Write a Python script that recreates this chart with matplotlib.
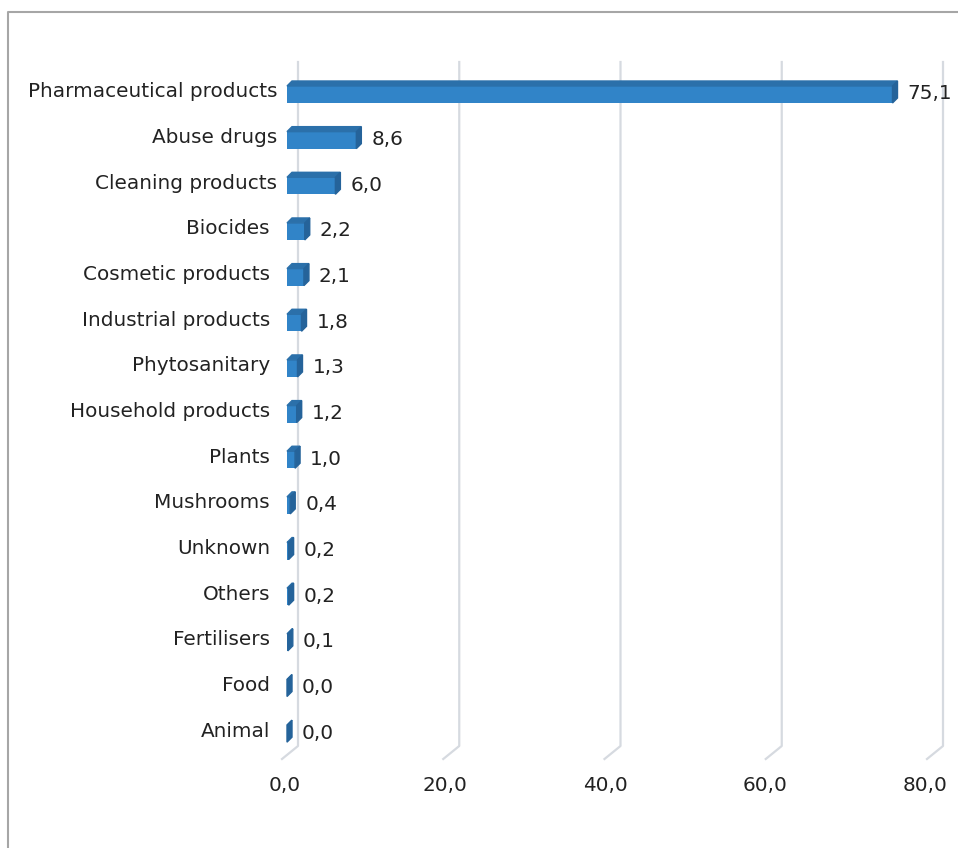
import matplotlib
matplotlib.use("Agg")
import matplotlib.pyplot as plt
from matplotlib.patches import Polygon
from matplotlib.lines import Line2D

categories = ["Pharmaceutical products", "Abuse drugs", "Cleaning products", "Biocides",
              "Cosmetic products", "Industrial products", "Phytosanitary", "Household products",
              "Plants", "Mushrooms", "Unknown", "Others", "Fertilisers", "Food", "Animal"]
values = [75.1, 8.6, 6.0, 2.2, 2.1, 1.8, 1.3, 1.2, 1.0, 0.4, 0.2, 0.2, 0.1, 0.0, 0.0]
xticks = [0, 20, 40, 60, 80]

front_col = "#3184C8"
top_col = "#2B70AA"
side_col = "#25639A"
grid_col = "#D6DAE0"
text_col = "#222222"
fs = 14.4

plt.rcParams["font.family"] = ["DejaVu Sans"]

W, H = 958, 848
fig = plt.figure(figsize=(W / 100, H / 100), dpi=100)
# axes: x 0..80 over pixels 287..932, categories centred every ~45.6 px
left, right, top, bottom = 287, 932, 62, 754
ax = fig.add_axes([left / W, 1 - bottom / H, (right - left) / W, (bottom - top) / H])
ax.set_xlim(0, 80)
ylo, yhi = 14.5, -0.657
ax.set_ylim(ylo, yhi)
ax.axis("off")

# pixel -> data unit sizes
px = 80 / (right - left)
py = (ylo - yhi) / (bottom - top)

# back gridlines with floor diagonal
y_floor_back = (746 - 92) * py
y_floor_front = (759 - 92) * py
for t in xticks:
    xb = t + 11 * px
    xf = t - 5 * px
    ax.add_line(Line2D([xb, xb, xf], [yhi, y_floor_back, y_floor_front],
                       color=grid_col, lw=1.6, clip_on=False, zorder=0))
    ax.text(t - (2 + 5 * t / 80) * px, (786 - 92) * py, f"{t:.1f}".replace(".", ","),
            ha="center", va="center", fontsize=fs, color=text_col, clip_on=False)

# pseudo 3d bars
bh = 17 * py
ddx, ddy = 5 * px, 5 * py
for i, (cat, v) in enumerate(zip(categories, values)):
    yc = i + 2.5 * py
    y0, y1 = yc - bh / 2, yc + bh / 2  # y0 is the upper edge (inverted axis)
    ax.barh(yc, v, height=bh, color=front_col, zorder=2)
    ax.add_patch(Polygon([(0, y0), (v, y0), (v + ddx, y0 - ddy), (ddx, y0 - ddy)],
                         closed=True, color=top_col, zorder=2, clip_on=False))
    ax.add_patch(Polygon([(v, y0), (v, y1), (v + ddx, y1 - ddy), (v + ddx, y0 - ddy)],
                         closed=True, color=side_col, zorder=3, clip_on=False))
    ax.text(v + ddx + 10 * px, i + 2 * py, f"{v:.1f}".replace(".", ","),
            ha="left", va="center", fontsize=fs, color=text_col, clip_on=False)
    lab_off = 10 if i < 3 else 17
    ax.text(-lab_off * px, i, cat, ha="right", va="center", fontsize=fs,
            color=text_col, clip_on=False)

# outer frame
fig.add_artist(Line2D([8 / W, 8 / W, 1], [0, 1 - 12 / H, 1 - 12 / H],
                      transform=fig.transFigure, color="#A6A6A6", lw=1.5))

fig.savefig("out.png", dpi=100)
